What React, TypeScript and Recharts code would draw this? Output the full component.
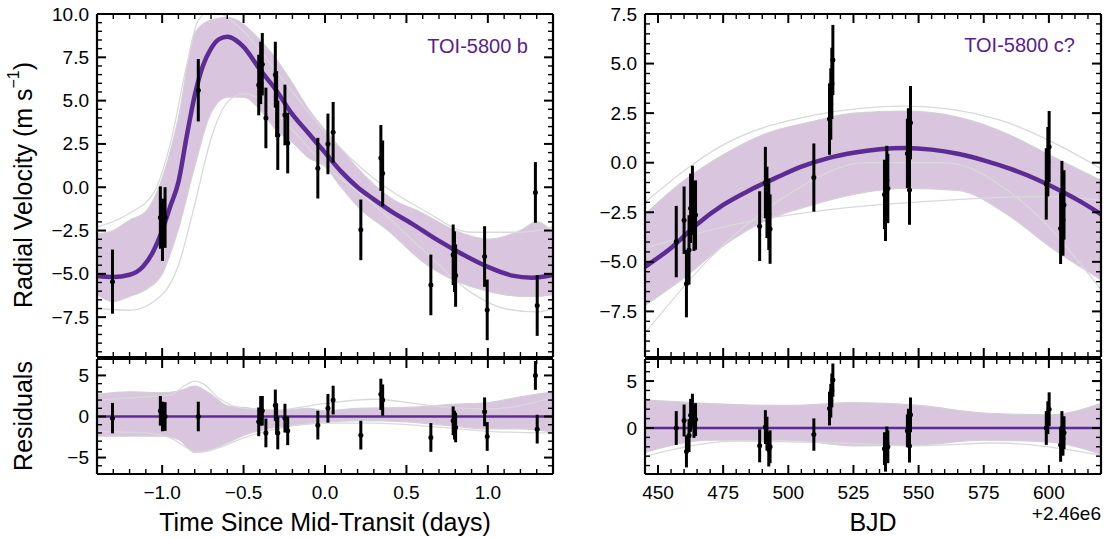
import React from "react";
import { ComposedChart, Line, Area, Scatter, ErrorBar, XAxis, YAxis, ReferenceLine } from "recharts";

const FONT = "'Liberation Sans', Arial, Helvetica, sans-serif";
const FIT = "#5b2c94";
const TITLE = "#5a1d8f";
const BAND = "#d9c5dd";
const BAND_EDGE = "#d3cfd6";
const GHOST = "#d9d9dc";

// ---- TOI-5800 b, phase folded ----
const phaseB = [-1.305, -1.011, -0.998, -0.982, -0.778, -0.407, -0.395, -0.385, -0.363, -0.305, -0.297, -0.29, -0.246, -0.229, -0.044, 0.018, 0.05, 0.22, 0.343, 0.354, 0.65, 0.787, 0.795, 0.802, 0.98, 0.996, 1.292, 1.303];
const rvB = [-5.45, -1.75, -2.46, -1.75, 5.6, 5.9, 6.6, 7.1, 4.0, 6.5, 4.8, 3.0, 4.17, 2.55, 1.1, 2.5, 3.17, -2.46, 1.69, 0.8, -5.64, -3.9, -4.3, -5.1, -4.0, -7.08, -0.3, -6.83];
const errB = [1.85, 1.8, 1.8, 1.75, 1.8, 1.75, 1.8, 1.8, 1.75, 1.9, 1.9, 2.0, 1.75, 1.75, 1.75, 1.75, 1.75, 1.75, 1.9, 1.9, 1.75, 1.75, 1.75, 1.8, 1.75, 1.75, 1.75, 1.75];
const resB = [-0.2, 0.69, 0.0, 0.0, 0.0, -0.65, 0.69, 0.7, -2.0, 1.38, -0.3, -2.0, -0.2, -1.74, -1.05, 1.0, 2.0, -2.27, 2.7, 2.0, -2.55, -0.53, -1.05, -1.34, 0.57, -2.43, 5.0, -1.54];

const fitPhaseB = [-1.4, -1.3, -1.2, -1.12, -1.06, -1.0, -0.95, -0.9, -0.85, -0.8, -0.75, -0.7, -0.65, -0.6, -0.55, -0.5, -0.4, -0.3, -0.2, -0.1, 0.0, 0.1, 0.2, 0.3, 0.4, 0.55, 0.7, 0.85, 1.0, 1.15, 1.27, 1.4];
const fitRvB = [-5.12, -5.18, -5.05, -4.6, -3.8, -2.5, -1.1, 0.3, 2.9, 5.3, 7.0, 8.0, 8.55, 8.68, 8.5, 8.1, 6.8, 5.6, 4.2, 3.1, 2.0, 0.9, 0.0, -0.7, -1.35, -2.2, -3.1, -3.9, -4.6, -5.1, -5.22, -5.06];

const bandPhaseB = [-1.4, -1.3, -1.2, -1.1, -1.0, -0.9, -0.8, -0.7, -0.6, -0.5, -0.4, -0.3, -0.2, -0.1, 0.0, 0.1, 0.2, 0.4, 0.6, 0.8, 1.0, 1.2, 1.3, 1.4];
const bandHiB = [-2.7, -2.5, -1.9, -1.4, 0.5, 4.0, 8.9, 9.65, 9.8, 9.4, 8.5, 7.4, 6.0, 4.5, 3.3, 2.2, 1.1, -0.6, -1.5, -2.5, -3.0, -2.5, -2.0, -2.6];
const bandLoB = [-6.2, -6.6, -6.3, -5.9, -5.0, -2.4, 1.2, 4.3, 5.2, 5.2, 4.5, 3.3, 2.6, 1.7, 1.2, 0.0, -1.1, -2.6, -4.3, -5.4, -6.0, -6.3, -6.3, -6.2];

const ghostPhaseB1 = [-1.4, -1.2, -1.05, -0.95, -0.85, -0.78, -0.7, -0.6, -0.5, -0.4, -0.2, 0.0, 0.3, 0.6, 0.9, 1.2, 1.4];
const ghostRvB1 = [-2.3, -1.5, -0.3, 2.5, 7.0, 9.6, 10.2, 9.8, 9.0, 7.9, 5.5, 3.2, 0.5, -1.3, -2.6, -2.6, -2.3];
const ghostPhaseB2 = [-1.4, -1.2, -1.0, -0.9, -0.8, -0.7, -0.6, -0.5, -0.35, -0.2, 0.0, 0.3, 0.6, 0.9, 1.1, 1.3, 1.4];
const ghostRvB2 = [-7.0, -7.1, -6.2, -4.5, -1.0, 2.8, 4.9, 5.4, 4.8, 3.3, 1.3, -1.0, -3.6, -6.1, -7.0, -7.2, -7.0];

const resBandPhaseB = [-1.4, -1.2, -1.0, -0.9, -0.8, -0.7, -0.6, -0.5, -0.3, -0.1, 0.0, 0.2, 0.5, 0.8, 1.0, 1.2, 1.4];
const resBandHiB = [2.7, 3.0, 2.9, 3.1, 3.7, 2.7, 1.3, 1.1, 0.7, 1.0, 0.7, 1.0, 1.1, 1.5, 1.7, 2.4, 3.0];
const resBandLoB = [-2.4, -2.4, -2.4, -2.8, -4.4, -4.0, -3.2, -2.3, -1.3, -0.9, -0.7, -0.5, -0.65, -1.2, -1.5, -1.5, -1.9];
const resGhostPhaseB = [-1.4, -1.1, -0.95, -0.85, -0.8, -0.75, -0.65, -0.5, -0.3, 0.0, 0.3, 0.7, 1.0, 1.4];
const resGhostB1 = [2.0, 2.4, 2.6, 3.9, 4.3, 4.0, 2.2, 1.0, 0.8, 1.6, 2.1, 1.2, 0.9, 2.3];
const resGhostB2 = [-1.8, -2.0, -2.6, -3.8, -4.3, -4.3, -3.8, -2.6, -1.5, -0.8, -0.8, -1.3, -1.8, -2.0];

// ---- TOI-5800 c?, time series ----
const bjdC = [457.0, 460.0, 460.9, 461.9, 462.5, 463.2, 463.8, 464.4, 489.0, 491.2, 491.8, 492.5, 493.0, 509.8, 515.8, 516.3, 516.7, 517.1, 536.9, 537.3, 537.8, 538.2, 545.7, 546.1, 546.5, 546.9, 599.0, 599.6, 600.1, 604.5, 605.0, 605.4, 605.8];
const rvC = [-3.98, -2.9, -6.1, -4.4, -2.3, -1.9, -2.7, -2.64, -3.2, -1.0, -2.0, -2.6, -3.35, -0.75, 2.2, 2.96, 4.0, 5.18, -1.6, -2.2, -0.9, -1.3, 0.47, 1.0, -1.38, 2.02, -1.07, 0.05, 0.81, -3.31, -1.71, -2.89, -2.13];
const errC = [1.8, 1.7, 1.7, 1.75, 1.75, 1.75, 1.75, 1.75, 1.76, 1.8, 1.8, 1.8, 1.75, 1.72, 1.8, 1.8, 1.8, 1.77, 1.75, 1.75, 1.75, 1.75, 1.75, 1.75, 1.75, 1.85, 1.8, 1.75, 1.8, 1.8, 1.8, 1.8, 1.75];
const resC = [0.0, 0.8, -2.5, -0.8, 1.35, 1.9, 0.7, 0.9, -1.9, 0.1, -0.6, -2.3, -2.0, -0.7, 2.07, 2.9, 4.0, 5.1, -2.2, -2.9, -1.6, -2.0, -0.3, 0.3, -1.93, 1.4, 0.0, 1.1, 2.0, -1.8, 0.0, -1.15, -0.5];

const fitBjdC = [445, 455, 465, 475, 485, 495, 505, 515, 525, 535, 545, 555, 565, 575, 585, 595, 605, 612, 620];
const fitRvC = [-5.25, -4.3, -3.1, -2.13, -1.4, -0.78, -0.2, 0.22, 0.5, 0.68, 0.74, 0.66, 0.45, 0.12, -0.3, -0.82, -1.45, -1.95, -2.6];

const bandBjdC = [445, 460, 475, 490, 510, 525, 545, 565, 585, 600, 620];
const bandHiC = [-2.6, -0.9, 0.4, 1.4, 2.1, 2.5, 2.6, 2.3, 1.4, 0.4, -0.9];
const bandLoC = [-7.2, -5.8, -4.2, -3.0, -2.1, -1.6, -1.3, -1.4, -2.7, -4.2, -5.9];

const ghostBjdC1 = [445, 470, 500, 530, 560, 590, 620];
const ghostRvC1 = [-8.6, -4.8, -1.6, 0.0, 0.0, -2.0, -6.4];
const ghostBjdC2 = [445, 480, 520, 560, 600, 620];
const ghostRvC2 = [-4.3, -3.1, -2.3, -1.9, -1.7, -1.9];
const ghostBjdC3 = [445, 475, 510, 545, 580, 605, 620];
const ghostRvC3 = [-2.0, 0.9, 2.4, 2.85, 2.2, 0.8, -0.3];

const resBandBjdC = [445, 470, 500, 525, 550, 575, 600, 620];
const resBandHiC = [3.0, 2.6, 2.4, 2.7, 2.4, 1.6, 1.4, 2.6];
const resBandLoC = [-2.6, -1.3, -1.3, -1.9, -1.8, -1.3, -1.5, -2.8];
const resGhostBjdC = [445, 480, 520, 550, 580, 620];
const resGhostC = [-3.0, -1.4, -1.6, -1.9, -1.6, -2.9];

// ---- axes ----
const xDomB = [-1.4, 1.4];
const xMajorB = [-1.0, -0.5, 0.0, 0.5, 1.0];
const yDomB = [-9.8, 10];
const yMajorB = [-7.5, -5.0, -2.5, 0.0, 2.5, 5.0, 7.5, 10.0];
const yDomResB = [-7, 7];
const yMajorResB = [-5, 0, 5];
const xDomC = [445, 620];
const xMajorC = [450, 475, 500, 525, 550, 575, 600];
const yDomC = [-9.8, 7.5];
const yMajorC = [-7.5, -5.0, -2.5, 0.0, 2.5, 5.0, 7.5];
const yDomResC = [-4.9, 7.35];
const yMajorResC = [0, 5];

const pts = (xs: number[], ys: number[], errs?: number[]) =>
  xs.map((x, i) => ({ x, y: ys[i], err: errs ? errs[i] : 0 }));
const band = (xs: number[], lo: number[], hi: number[]) =>
  xs.map((x, i) => ({ x, band: [lo[i], hi[i]] }));

function tickList(lo: number, hi: number, step: number) {
  const out: number[] = [];
  for (let k = Math.ceil(lo / step - 1e-9); k * step <= hi + 1e-9; k++) out.push(+(k * step).toFixed(4));
  return out;
}

const minus = (s: string) => s.replace("-", "\u2212");
const fmt1 = (v: number) => minus(v.toFixed(1));
const fmt0 = (v: number) => minus(v.toFixed(0));

type Side = "left" | "right" | "top" | "bottom";

// inward ticks, major + minor, labels only on majors
const makeTick = (side: Side, majors: number[], fmt?: (v: number) => string) => (props: any) => {
  const { x, y, payload } = props;
  const v = payload.value;
  const major = majors.some((m) => Math.abs(m - v) < 1e-6);
  const len = major ? 9 : 5;
  const sw = major ? 2 : 1.4;
  let x2 = x, y2 = y;
  if (side === "left") x2 = x + len;
  if (side === "right") x2 = x - len;
  if (side === "top") y2 = y + len;
  if (side === "bottom") y2 = y - len;
  let label = null;
  if (fmt && major) {
    if (side === "left")
      label = <text x={x - 8} y={y} textAnchor="end" dominantBaseline="central" fontSize={19} fontFamily={FONT} fill="#000">{fmt(v)}</text>;
    if (side === "bottom")
      label = <text x={x} y={y + 25} textAnchor="middle" fontSize={19} fontFamily={FONT} fill="#000">{fmt(v)}</text>;
  }
  return (
    <g>
      <line x1={x} y1={y} x2={x2} y2={y2} stroke="#000" strokeWidth={sw} />
      {label}
    </g>
  );
};

// margins around each plot box; axes get a 1px band so they render
const ML = 60, MR = 3, MT = 10, MB = 35, AX = 1;

interface PanelProps {
  left: number; top: number; w: number; h: number;
  xDom: number[]; xMajor: number[]; xStep: number; xFmt?: (v: number) => string;
  yDom: number[]; yMajor: number[]; yStep: number; yFmt: (v: number) => string;
  bandData: any[];
  children: React.ReactNode;
}

function Panel(p: PanelProps) {
  const xt = tickList(p.xDom[0], p.xDom[1], p.xStep);
  const yt = tickList(p.yDom[0], p.yDom[1], p.yStep);
  const axisLine = { stroke: "#000", strokeWidth: 2.2 };
  return (
    <div style={{ position: "absolute", left: p.left - ML - AX, top: p.top - MT - AX }}>
      <ComposedChart width={ML + AX + p.w + AX + MR} height={MT + AX + p.h + AX + MB} data={p.bandData}
        margin={{ top: MT, right: MR, bottom: MB, left: ML }}>
        <XAxis xAxisId={0} dataKey="x" type="number" domain={p.xDom} allowDataOverflow ticks={xt} interval={0}
          height={AX} tickSize={0} tickMargin={0} axisLine={axisLine} tickLine={false}
          tick={makeTick("bottom", p.xMajor, p.xFmt)} />
        <XAxis xAxisId="t" orientation="top" dataKey="x" type="number" domain={p.xDom} allowDataOverflow ticks={xt} interval={0}
          height={AX} tickSize={0} tickMargin={0} axisLine={axisLine} tickLine={false}
          tick={makeTick("top", p.xMajor)} />
        <YAxis yAxisId={0} type="number" domain={p.yDom} allowDataOverflow ticks={yt} interval={0}
          width={AX} tickSize={0} tickMargin={0} axisLine={axisLine} tickLine={false}
          tick={makeTick("left", p.yMajor, p.yFmt)} />
        <YAxis yAxisId="r" orientation="right" type="number" domain={p.yDom} allowDataOverflow ticks={yt} interval={0}
          width={AX} tickSize={0} tickMargin={0} axisLine={axisLine} tickLine={false}
          tick={makeTick("right", p.yMajor)} />
        <Line xAxisId="t" yAxisId="r" data={[{ x: p.xDom[0], y: p.yDom[0] }, { x: p.xDom[1], y: p.yDom[1] }]}
          dataKey="y" stroke="none" dot={false} isAnimationActive={false} />
        {p.children}
      </ComposedChart>
    </div>
  );
}

const dot = (props: any) => <circle cx={props.cx} cy={props.cy} r={2.5} fill="#000" />;

const bandArea = (
  <Area xAxisId={0} yAxisId={0} dataKey="band" type="monotone" fill={BAND} fillOpacity={1}
    stroke={BAND_EDGE} strokeWidth={1.2} isAnimationActive={false} />
);

const ghost = (xs: number[], ys: number[], key: string) => (
  <Line key={key} xAxisId={0} yAxisId={0} data={pts(xs, ys)} dataKey="y" type="monotone"
    stroke={GHOST} strokeWidth={1.3} dot={false} isAnimationActive={false} />
);

const fitLine = (xs: number[], ys: number[]) => (
  <Line xAxisId={0} yAxisId={0} data={pts(xs, ys)} dataKey="y" type="monotone"
    stroke={FIT} strokeWidth={4.5} dot={false} isAnimationActive={false} />
);

const points = (xs: number[], ys: number[], errs: number[]) => (
  <Scatter xAxisId={0} yAxisId={0} data={pts(xs, ys, errs)} dataKey="y" shape={dot} isAnimationActive={false}>
    <ErrorBar dataKey="err" direction="y" width={0} stroke="#000" strokeWidth={3} isAnimationActive={false} />
  </Scatter>
);

const zeroLine = <ReferenceLine xAxisId={0} yAxisId={0} y={0} stroke={FIT} strokeWidth={2.5} />;

export default function App() {
  return (
    <div style={{ position: "absolute", left: 0, top: 0, width: 1105, height: 538, overflow: "hidden", background: "#fff" }}>
      <Panel left={97} top={14} w={456} h={343} xDom={xDomB} xMajor={xMajorB} xStep={0.1}
        yDom={yDomB} yMajor={yMajorB} yStep={0.5} yFmt={fmt1} bandData={band(bandPhaseB, bandLoB, bandHiB)}>
        {bandArea}
        {ghost(ghostPhaseB1, ghostRvB1, "g1")}
        {ghost(ghostPhaseB2, ghostRvB2, "g2")}
        {fitLine(fitPhaseB, fitRvB)}
        {points(phaseB, rvB, errB)}
      </Panel>
      <Panel left={97} top={359} w={456} h={115} xDom={xDomB} xMajor={xMajorB} xStep={0.1} xFmt={fmt1}
        yDom={yDomResB} yMajor={yMajorResB} yStep={1} yFmt={fmt0} bandData={band(resBandPhaseB, resBandLoB, resBandHiB)}>
        {bandArea}
        {ghost(resGhostPhaseB, resGhostB1, "r1")}
        {ghost(resGhostPhaseB, resGhostB2, "r2")}
        {zeroLine}
        {points(phaseB, resB, errB)}
      </Panel>
      <Panel left={645} top={14} w={456} h={343} xDom={xDomC} xMajor={xMajorC} xStep={5}
        yDom={yDomC} yMajor={yMajorC} yStep={0.5} yFmt={fmt1} bandData={band(bandBjdC, bandLoC, bandHiC)}>
        {bandArea}
        {ghost(ghostBjdC1, ghostRvC1, "c1")}
        {ghost(ghostBjdC2, ghostRvC2, "c2")}
        {ghost(ghostBjdC3, ghostRvC3, "c3")}
        {fitLine(fitBjdC, fitRvC)}
        {points(bjdC, rvC, errC)}
      </Panel>
      <Panel left={645} top={359} w={456} h={115} xDom={xDomC} xMajor={xMajorC} xStep={5} xFmt={fmt0}
        yDom={yDomResC} yMajor={yMajorResC} yStep={1} yFmt={fmt0} bandData={band(resBandBjdC, resBandLoC, resBandHiC)}>
        {bandArea}
        {ghost(resGhostBjdC, resGhostC, "rc")}
        {zeroLine}
        {points(bjdC, resC, errC)}
      </Panel>
      <svg width={1105} height={538} style={{ position: "absolute", left: 0, top: 0, pointerEvents: "none" }}
        fontFamily={FONT}>
        <text transform="translate(23,185) rotate(-90)" textAnchor="middle" dominantBaseline="central" fontSize={25}>
          <tspan>Radial Velocity (m s</tspan>
          <tspan dy={-10} fontSize={16}>{"\u22121"}</tspan>
          <tspan dy={10}>)</tspan>
        </text>
        <text transform="translate(23,416) rotate(-90)" textAnchor="middle" dominantBaseline="central" fontSize={25}>Residuals</text>
        <text x={325} y={522} textAnchor="middle" dominantBaseline="central" fontSize={25}>Time Since Mid-Transit (days)</text>
        <text x={873} y={522} textAnchor="middle" dominantBaseline="central" fontSize={25}>BJD</text>
        <text x={1101} y={513} textAnchor="end" dominantBaseline="central" fontSize={19}>+2.46e6</text>
        <text x={528} y={46} textAnchor="end" dominantBaseline="central" fontSize={20} fill={TITLE}>TOI-5800 b</text>
        <text x={1075} y={45} textAnchor="end" dominantBaseline="central" fontSize={20} fill={TITLE}>TOI-5800 c?</text>
      </svg>
    </div>
  );
}
